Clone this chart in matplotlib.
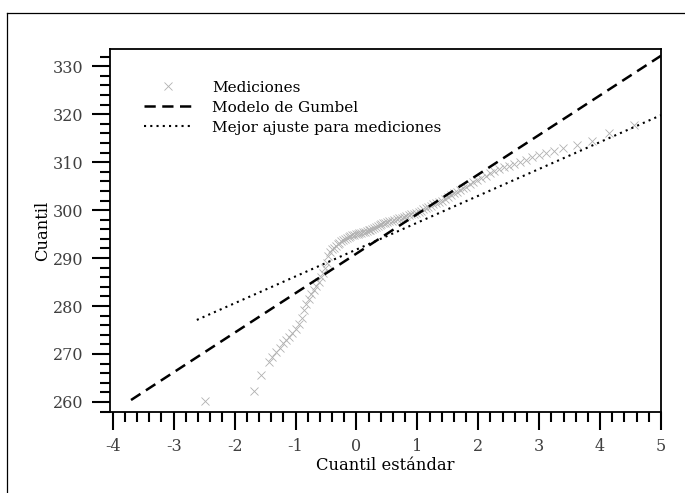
import matplotlib
matplotlib.use("Agg")
import matplotlib.pyplot as plt
from matplotlib.ticker import MultipleLocator
from matplotlib.lines import Line2D

std_quantile = [
    -2.48, -1.68, -1.56, -1.44,
    -1.38, -1.32, -1.26, -1.20, -1.15, -1.10, -1.05, -1.00, -0.95, -0.90,
    -0.86, -0.82, -0.78, -0.74, -0.70, -0.66, -0.62, -0.58, -0.55, -0.52,
    -0.49, -0.46, -0.43, -0.40,
    -0.37, -0.34, -0.31, -0.28, -0.25, -0.22, -0.19, -0.16, -0.13, -0.10,
    -0.07, -0.04, -0.01, 0.02, 0.05, 0.08, 0.11, 0.14, 0.17, 0.20, 0.23,
    0.26, 0.29, 0.32, 0.35, 0.38, 0.41, 0.44, 0.47, 0.50, 0.54, 0.58, 0.62,
    0.66, 0.70, 0.74, 0.78, 0.82, 0.86, 0.90, 0.94, 0.98, 1.02, 1.06, 1.10,
    1.14, 1.18, 1.22, 1.26, 1.30, 1.35, 1.40, 1.45, 1.50, 1.55, 1.60, 1.65,
    1.70, 1.75, 1.80, 1.86, 1.92, 1.98,
    2.05, 2.12, 2.19, 2.26, 2.34, 2.42, 2.50, 2.59, 2.68, 2.78, 2.88, 2.99,
    3.11, 3.24, 3.39,
    3.62, 3.87, 4.15, 4.55,
]
measured = [
    260.1, 262.2, 265.6, 268.4,
    269.4, 270.4, 271.3, 272.2, 272.9, 273.6, 274.4, 275.2, 276.3, 277.6,
    279.2, 280.4, 281.5, 282.5, 283.4, 284.2, 285.1, 286.0, 286.8, 287.9,
    289.0, 290.4, 291.2, 291.8,
    292.2, 292.6, 292.9, 293.2, 293.5, 293.7, 294.0, 294.2, 294.4, 294.6,
    294.8, 294.9, 295.0, 295.1, 295.2, 295.3, 295.4, 295.5, 295.6, 295.8, 295.9,
    296.1, 296.3, 296.5, 296.7, 296.9, 297.1, 297.3, 297.4, 297.5, 297.7, 297.8, 298.0,
    298.1, 298.3, 298.4, 298.6, 298.8, 298.9, 299.1, 299.2, 299.4, 299.6, 299.9, 300.2,
    300.4, 300.7, 300.9, 301.2, 301.4, 301.7, 302.0, 302.3, 302.7, 303.1, 303.5, 303.8,
    304.2, 304.6, 304.9, 305.4, 305.8, 306.2,
    306.7, 307.2, 307.7, 308.1, 308.5, 308.9, 309.3, 309.7, 310.1, 310.5, 311.0, 311.5,
    312.0, 312.4, 312.9,
    313.5, 314.4, 316.1, 317.7,
]

# Gumbel model and best-fit line endpoints
gumbel_x = [-3.70, 5.0]
gumbel_y = [260.4, 332.2]
fit_x = [-2.62, 5.0]
fit_y = [277.1, 319.8]

x_ticks = [-4, -3, -2, -1, 0, 1, 2, 3, 4, 5]
y_ticks = [260, 270, 280, 290, 300, 310, 320, 330]

plt.rcParams['font.family'] = 'DejaVu Serif'

fig = plt.figure(figsize=(6.85, 4.93), dpi=100)
ax = fig.add_axes([0.1606, 0.1643, 0.8044, 0.7363])

ax.plot(std_quantile, measured, linestyle='none', marker='x', color='#b0b0b0',
        markersize=6, markeredgewidth=0.6, label='Mediciones')
ax.plot(gumbel_x, gumbel_y, color='black', linestyle=(0, (4.5, 2.6)),
        linewidth=1.8, label='Modelo de Gumbel')
ax.plot(fit_x, fit_y, color='black', linestyle=(0, (1, 2.0)),
        linewidth=1.5, label='Mejor ajuste para mediciones')

ax.set_xlim(-4.045, 5.0)
ax.set_ylim(257.9, 333.6)
ax.set_xticks(x_ticks)
ax.set_xticklabels([str(t) for t in x_ticks])
ax.set_yticks(y_ticks)
ax.xaxis.set_minor_locator(MultipleLocator(0.2))
ax.yaxis.set_minor_locator(MultipleLocator(2))

ax.tick_params(which='major', direction='out', length=13, width=1.5,
               labelsize=11.5, labelcolor='#404040', pad=6)
ax.tick_params(which='minor', direction='out', length=7.5, width=1.5)
for s in ax.spines.values():
    s.set_linewidth(1.3)

ax.set_xlabel('Cuantil estándar', fontsize=11.8, labelpad=1)
ax.set_ylabel('Cuantil', fontsize=11.8, labelpad=1)

ax.legend(loc='upper left', bbox_to_anchor=(0.05, 0.93), frameon=False,
          fontsize=11, handlelength=3.2, handletextpad=1.3, labelspacing=0.4,
          borderaxespad=0)

# outer frame (cut off on the right and bottom)
fx = 7 / 685
fy = 1 - 13 / 493
fig.add_artist(Line2D([fx, fx], [0, fy], transform=fig.transFigure,
                      color='black', linewidth=0.9))
fig.add_artist(Line2D([fx, 1], [fy, fy], transform=fig.transFigure,
                      color='black', linewidth=0.9))

fig.savefig('out.png', dpi=100)
